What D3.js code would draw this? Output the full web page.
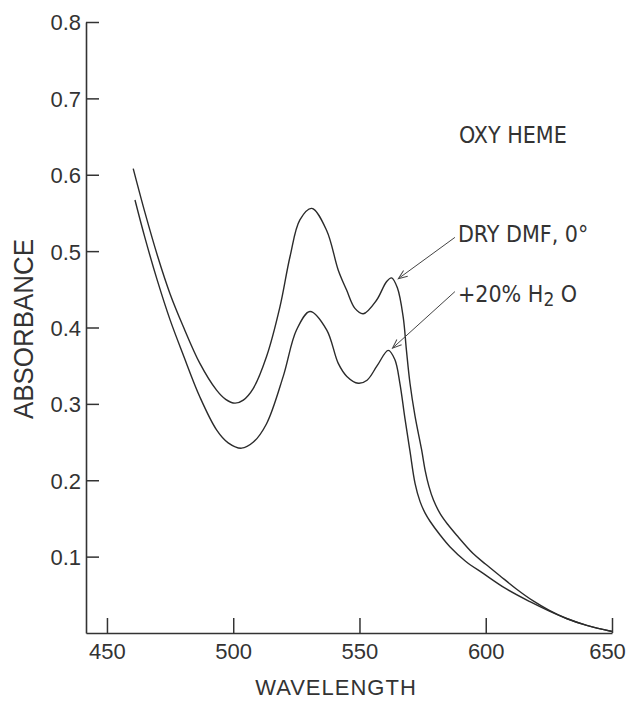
<!DOCTYPE html>
<html>
<head>
<meta charset="utf-8">
<script src="https://cdn.jsdelivr.net/npm/d3@7"></script>
<style>
  body { margin: 0; background: #fff; }
  svg { display: block; }
  .tick text { font-family: 'Liberation Sans', Arial, sans-serif; font-size: 22px; fill: #333; }
  .note { font-family: 'Liberation Sans Narrow', 'DejaVu Sans Condensed', sans-serif; font-size: 23px; fill: #333; }
</style>
</head>
<body>
<div id="chart"></div>
<script>
// DRY DMF, 0 deg (upper trace)
const dryWl  = [460.4, 465, 470, 475, 480, 486.8, 493.4, 497, 500.7, 504, 507.9, 513.2, 518.5, 522.5, 526.4, 531.1, 537, 541.6, 544.9, 548.2, 551.5, 556.8, 560.7, 562.7, 565, 567.3, 568.6, 570, 572, 574.6, 576, 577.5, 579.3, 582, 585, 588.5, 595, 600, 605.6, 612, 618.8, 625, 632, 640, 650];
const dryAbs = [0.608, 0.551, 0.494, 0.444, 0.403, 0.353, 0.318, 0.306, 0.301, 0.305, 0.320, 0.362, 0.427, 0.493, 0.541, 0.556, 0.527, 0.475, 0.449, 0.425, 0.418, 0.436, 0.460, 0.465, 0.452, 0.414, 0.370, 0.327, 0.284, 0.240, 0.213, 0.192, 0.174, 0.156, 0.142, 0.128, 0.104, 0.090, 0.075, 0.058, 0.042, 0.030, 0.019, 0.010, 0.002];

// + 20% H2O (lower trace)
const wetWl  = [461.1, 465, 470, 475, 480, 486.8, 493.4, 498, 503.3, 508, 513.2, 519.8, 525.1, 530.4, 537, 541.6, 545, 549.5, 553, 557, 561.4, 564, 566, 568, 570, 572, 574, 576, 578, 582, 585.8, 592, 599, 608, 617.5, 625, 632, 640, 650];
const wetAbs = [0.567, 0.518, 0.461, 0.410, 0.366, 0.309, 0.266, 0.249, 0.242, 0.250, 0.274, 0.336, 0.397, 0.421, 0.397, 0.353, 0.336, 0.327, 0.331, 0.350, 0.370, 0.358, 0.327, 0.281, 0.238, 0.196, 0.172, 0.157, 0.146, 0.128, 0.113, 0.094, 0.078, 0.058, 0.041, 0.029, 0.019, 0.010, 0.002];

const xTicks = [450, 500, 550, 600, 650];
const yTicks = [0.1, 0.2, 0.3, 0.4, 0.5, 0.6, 0.7, 0.8];

const notes = [
  { text: 'DRY DMF, 0°', tipWl: 565.4, tipAbs: 0.464, tailWl: 587.8, tailAbs: 0.518, dy: 5 },
  { text: '+20% H', sub: '2', after: ' O', tipWl: 563.1, tipAbs: 0.373, tailWl: 587.8, tailAbs: 0.447, dy: 10 }
];

const width = 628;
const height = 701;
const plotLeft = 86;
const plotRight = 612;
const plotTop = 22;
const plotBottom = 633;

const svg = d3.select('#chart')
  .append('svg')
  .attr('width', width)
  .attr('height', height);

const x = d3.scaleLinear()
  .domain([441.7, 650])
  .range([plotLeft, plotRight]);
const y = d3.scaleLinear()
  .domain([0, 0.8])
  .range([plotBottom, plotTop]);

// axes, ticks pointing inward
const xAxis = svg.append('g')
  .attr('transform', `translate(0,${plotBottom})`)
  .call(d3.axisBottom(x).tickValues(xTicks).tickSize(-15).tickSizeOuter(0).tickPadding(26));
const yAxis = svg.append('g')
  .attr('transform', `translate(${plotLeft},0)`)
  .call(d3.axisLeft(y).tickValues(yTicks).tickSize(-13).tickSizeOuter(0).tickPadding(5).tickFormat(d3.format('.1f')));

[xAxis, yAxis].forEach((g) => {
  g.attr('font-size', null).attr('font-family', null);
  g.select('.domain').attr('stroke', '#333').attr('stroke-width', 1.6);
  g.selectAll('.tick line').attr('stroke', '#333').attr('stroke-width', 1.5);
});
xAxis.selectAll('.tick text').attr('dy', '0');
// last label sits against the page edge
xAxis.selectAll('.tick text').filter((d) => d === 650).attr('dx', -5);
yAxis.selectAll('.tick text').attr('dy', '0.36em');

// traces
const line = d3.line()
  .x((d) => x(d[0]))
  .y((d) => y(d[1]))
  .curve(d3.curveCatmullRom.alpha(0.5));

[[dryWl, dryAbs], [wetWl, wetAbs]].forEach((s) => {
  svg.append('path')
    .datum(d3.zip(s[0], s[1]))
    .attr('d', line)
    .attr('fill', 'none')
    .attr('stroke', '#2b2b2b')
    .attr('stroke-width', 1.4);
});

// arrow head
svg.append('defs').append('marker')
  .attr('id', 'arrow')
  .attr('markerUnits', 'userSpaceOnUse')
  .attr('viewBox', '-10 -5 12 10')
  .attr('markerWidth', 12)
  .attr('markerHeight', 10)
  .attr('refX', 0)
  .attr('refY', 0)
  .attr('orient', 'auto')
  .append('path')
  .attr('d', 'M-9,-3.5 L0,0 L-9,3.5')
  .attr('fill', 'none')
  .attr('stroke', '#444')
  .attr('stroke-width', 1);

notes.forEach((n) => {
  svg.append('line')
    .attr('x1', x(n.tailWl))
    .attr('y1', y(n.tailAbs))
    .attr('x2', x(n.tipWl))
    .attr('y2', y(n.tipAbs))
    .attr('stroke', '#444')
    .attr('stroke-width', 1)
    .attr('marker-end', 'url(#arrow)');

  const t = svg.append('text')
    .attr('class', 'note')
    .attr('x', x(n.tailWl) + 3)
    .attr('y', y(n.tailAbs) + n.dy);
  t.append('tspan').text(n.text);
  if (n.sub) {
    t.append('tspan').attr('dy', 4).attr('font-size', '19px').text(n.sub);
    t.append('tspan').attr('dy', -4).text(n.after);
  }
});

svg.append('text')
  .attr('class', 'note')
  .attr('x', x(589.4))
  .attr('y', y(0.641))
  .text('OXY HEME');

// axis titles
svg.append('text')
  .text('WAVELENGTH')
  .attr('x', 336)
  .attr('y', 695)
  .attr('text-anchor', 'middle')
  .attr('font-family', "'Liberation Sans', Arial, sans-serif")
  .attr('font-size', '22px')
  .attr('letter-spacing', '1px')
  .attr('fill', '#333');

svg.append('text')
  .text('ABSORBANCE')
  .attr('transform', 'translate(33,329) rotate(-90)')
  .attr('text-anchor', 'middle')
  .attr('font-family', "'Liberation Sans', Arial, sans-serif")
  .attr('font-size', '27px')
  .attr('textLength', 180)
  .attr('lengthAdjust', 'spacingAndGlyphs')
  .attr('fill', '#333');
</script>
</body>
</html>
